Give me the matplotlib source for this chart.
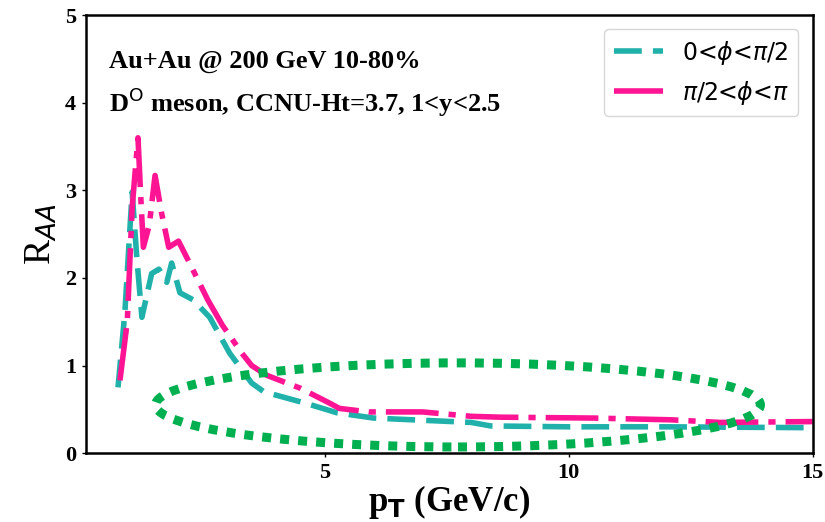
import numpy as np
import matplotlib
matplotlib.use("Agg")
import matplotlib.pyplot as plt
from matplotlib.patches import Ellipse

plt.rcParams['mathtext.fontset'] = 'dejavusans'

# D0 RAA vs pT, two azimuthal bins
pt_in = [0.76, 0.9, 1.05, 1.15, 1.25, 1.45, 1.6, 1.76, 1.86, 2.03, 2.3, 2.64,
         3.05, 3.5, 3.75, 4.6, 5.25, 6.0, 8.0, 8.4, 10.0, 12.0, 15.0]
raa_in = [0.75, 1.6, 2.98, 2.2, 1.55, 2.05, 2.1, 1.95, 2.17, 1.83, 1.75, 1.55,
          1.14, 0.8, 0.70, 0.57, 0.46, 0.40, 0.35, 0.31, 0.30, 0.30, 0.29]

pt_out = [0.8, 0.95, 1.05, 1.17, 1.22, 1.28, 1.4, 1.52, 1.65, 1.8, 2.0, 2.2,
          2.6, 2.9, 3.3, 3.5, 3.8, 4.5, 5.1, 5.3, 5.9, 7.0, 8.0, 8.6, 10.5,
          12.1, 13.1, 15.0]
raa_out = [0.83, 1.5, 2.8, 3.6, 3.0, 2.35, 2.6, 3.17, 2.75, 2.35, 2.42, 2.2,
           1.75, 1.46, 1.14, 1.0, 0.89, 0.74, 0.57, 0.51, 0.47, 0.47, 0.42,
           0.41, 0.40, 0.38, 0.35, 0.36]

labels = [r'0<$\phi$<$\pi$/2', r'$\pi$/2<$\phi$<$\pi$']

fig = plt.figure(figsize=(8.25, 5.22), dpi=100)
ax = fig.add_axes([0.104, 0.132, 0.881, 0.839])

ax.plot(pt_in, raa_in, color='lightseagreen', lw=4, dashes=(5, 2),
        label=labels[0])
ax.plot(pt_out, raa_out, color='deeppink', lw=4, dashes=(9.5, 1.8, 1.3, 1.8),
        label=labels[1])

# highlight the high-pT region
ell = Ellipse((7.73, 0.55), 12.4, 0.96, fill=False, edgecolor='#00b050',
              lw=6.5, linestyle=(0, (1, 1)), zorder=5)
ell.set_capstyle('butt')
ax.add_patch(ell)

ax.set_xlim(0.1, 15)
ax.set_ylim(0, 5)
ax.set_xticks([5, 10, 15])
ax.set_yticks([0, 1, 2, 3, 4, 5])
for lab in ax.get_xticklabels() + ax.get_yticklabels():
    lab.set_family('Liberation Serif')
    lab.set_fontweight('bold')
    lab.set_fontsize(16)
ax.tick_params(length=3, width=1, pad=4)
for sp in ax.spines.values():
    sp.set_linewidth(1.8)

ax.set_xlabel(r'p$_\mathbf{T}$ (GeV/c)', family='Liberation Serif',
              fontweight='bold', fontsize=25, labelpad=0)
ax.set_ylabel(r'R$_{AA}$', family='Liberation Serif', fontsize=27,
              labelpad=4)

ax.text(0.032, 0.895, 'Au+Au @ 200 GeV 10-80%', transform=ax.transAxes,
        family='Liberation Serif', fontweight='bold', fontsize=19,
        va='center')
ax.text(0.032, 0.80, r'D$^\mathrm{O}$ meson, CCNU-Ht=3.7, 1<y<2.5',
        transform=ax.transAxes, family='Liberation Serif', fontweight='bold',
        fontsize=19, va='center')

ax.legend(loc='upper right', fontsize=17, handlelength=2.1,
          borderaxespad=0.6, framealpha=0.8)

fig.savefig('out.png', dpi=100)
